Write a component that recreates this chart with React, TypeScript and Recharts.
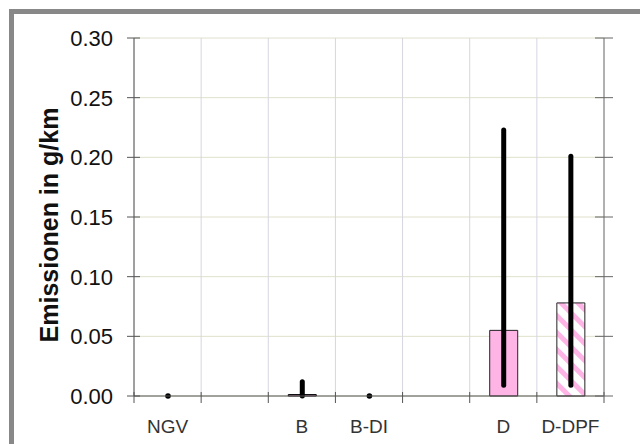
import React from "react";
import {
  ComposedChart,
  Bar,
  XAxis,
  YAxis,
  CartesianGrid,
  Cell,
  Label,
} from "recharts";

const categories = ["NGV", " ", "B", "B-DI", "  ", "D", "D-DPF"];
const barValues: (number | null)[] = [null, null, 0.0012, null, null, 0.055, 0.078];
const rangeMin: (number | null)[] = [0, null, 0, 0, null, 0.009, 0.009];
const rangeMax: (number | null)[] = [0, null, 0.012, 0, null, 0.223, 0.201];
const hatched: boolean[] = [false, false, false, false, false, false, true];
const yTicks = [0, 0.05, 0.1, 0.15, 0.2, 0.25, 0.3];
const gridTicks = [0, 1, 2, 3, 4, 5, 6, 7];

const data = categories.map((c, i) => ({
  cat: c,
  value: barValues[i],
  range:
    rangeMin[i] === null || rangeMax[i] === null
      ? null
      : [rangeMin[i] as number, rangeMax[i] as number],
}));

const FONT = "'Liberation Sans', Arial, sans-serif";
const LEFT_MARGIN = 19;
const CHART_W = 640;
const CHART_H = 444;
const MARGIN_TOP = 38;
const XAXIS_H = 48;
const PLOT_BOTTOM = CHART_H - XAXIS_H;

const LeftTick = (props: any) => {
  const { x, y, payload } = props;
  const ax = x + LEFT_MARGIN;
  return (
    <g>
      <line x1={ax - 7} x2={ax + 6} y1={y} y2={y} stroke="#555" strokeWidth={1} />
      <text
        x={x - 2}
        y={y}
        dy="0.36em"
        textAnchor="end"
        fontFamily={FONT}
        fontSize={22}
        fill="#111"
      >
        {Number(payload.value).toFixed(2)}
      </text>
    </g>
  );
};

const RightTick = (props: any) => {
  const { x, y } = props;
  return <line x1={x - 9} x2={x + 9} y1={y} y2={y} stroke="#666" strokeWidth={1} />;
};

const RangeShape = (props: any) => {
  const { x, y, width, height } = props;
  if (x == null || y == null) return null;
  const cx = x + width / 2;
  const top = Math.min(y, y + height);
  const bottom = Math.max(y, y + height);
  if (bottom - top < 2) {
    return <circle cx={cx} cy={top} r={2.8} fill="#000" />;
  }
  return (
    <line
      x1={cx}
      x2={cx}
      y1={top}
      y2={bottom}
      stroke="#000"
      strokeWidth={5}
      strokeLinecap="round"
    />
  );
};

const YTitle = (props: any) => {
  const vb = props.viewBox || { x: 0, y: 0, width: 0, height: 0 };
  const cx = vb.x + 58;
  const cy = vb.y + vb.height / 2 + 8;
  return (
    <text
      x={cx}
      y={cy}
      transform={`rotate(-90, ${cx}, ${cy})`}
      textAnchor="middle"
      fontFamily={FONT}
      fontWeight="bold"
      fontSize={25}
      fill="#111"
    >
      Emissionen in g/km
    </text>
  );
};

const verticalGen = ({ offset }: any) =>
  gridTicks.map((t) => offset.left + (t * offset.width) / categories.length);

export default function App() {
  return (
    <div
      style={{
        position: "absolute",
        left: 0,
        top: 0,
        width: CHART_W,
        height: CHART_H,
        overflow: "hidden",
        background: "#fff",
      }}
    >
      <div
        style={{
          position: "absolute",
          left: 9,
          top: 9,
          width: 700,
          height: 500,
          borderLeft: "5px solid #888",
          borderTop: "5px solid #888",
        }}
      />
      <div style={{ position: "absolute", left: 0, top: 0 }}>
        <ComposedChart
          width={CHART_W}
          height={CHART_H}
          data={data}
          margin={{ top: MARGIN_TOP, right: 0, left: 0, bottom: 0 }}
          barCategoryGap={0}
        >
          <defs>
            <pattern
              id="hatch"
              patternUnits="userSpaceOnUse"
              width={12}
              height={12}
              patternTransform="rotate(-45)"
            >
              <rect x={0} y={0} width={12} height={12} fill="#fff" />
              <rect x={0} y={0} width={5} height={12} fill="#ffb4e6" />
            </pattern>
          </defs>
          <CartesianGrid
            yAxisId="left"
            xAxisId="cat"
            vertical={false}
            stroke="#e0e0cc"
            strokeWidth={1}
          />
          <CartesianGrid
            yAxisId="left"
            xAxisId="cat"
            horizontal={false}
            verticalCoordinatesGenerator={verticalGen}
            stroke="#d6d6e2"
            strokeWidth={1}
          />
          {/* boundary tick marks across the bottom axis */}
          <CartesianGrid
            yAxisId="left"
            xAxisId="cat"
            horizontal={false}
            verticalCoordinatesGenerator={verticalGen}
            y={PLOT_BOTTOM - 4}
            height={11}
            stroke="#555"
            strokeWidth={1}
          />
          <XAxis
            xAxisId="cat"
            dataKey="cat"
            height={XAXIS_H}
            axisLine={{ stroke: "#555" }}
            tickLine={false}
            tickSize={6}
            tickMargin={18}
            interval={0}
            tick={{ fontFamily: FONT, fontSize: 19, fill: "#333" }}
          />
          <XAxis xAxisId="rng" dataKey="cat" hide />
          <YAxis
            yAxisId="left"
            domain={[0, 0.3]}
            ticks={yTicks}
            width={134}
            tickSize={0}
            tickMargin={LEFT_MARGIN}
            tickLine={false}
            tick={<LeftTick />}
            axisLine={{ stroke: "#555" }}
          >
            <Label content={<YTitle />} />
          </YAxis>
          <YAxis
            yAxisId="r"
            orientation="right"
            domain={[0, 0.3]}
            ticks={yTicks}
            width={CHART_W - 604}
            tickSize={0}
            tickMargin={0}
            tickLine={false}
            tick={<RightTick />}
            axisLine={{ stroke: "#777" }}
          />
          <Bar
            xAxisId="cat"
            yAxisId="left"
            dataKey="value"
            barSize={28}
            fill="#ffb4e6"
            stroke="#222"
            strokeWidth={1}
            isAnimationActive={false}
          >
            {data.map((d, i) => (
              <Cell
                key={i}
                fill={hatched[i] ? "url(#hatch)" : "#ffb4e6"}
                stroke={i === 2 ? "#000" : "#222"}
              />
            ))}
          </Bar>
          <Bar
            xAxisId="rng"
            yAxisId="r"
            dataKey="range"
            barSize={28}
            shape={<RangeShape />}
            isAnimationActive={false}
          />
        </ComposedChart>
      </div>
    </div>
  );
}
